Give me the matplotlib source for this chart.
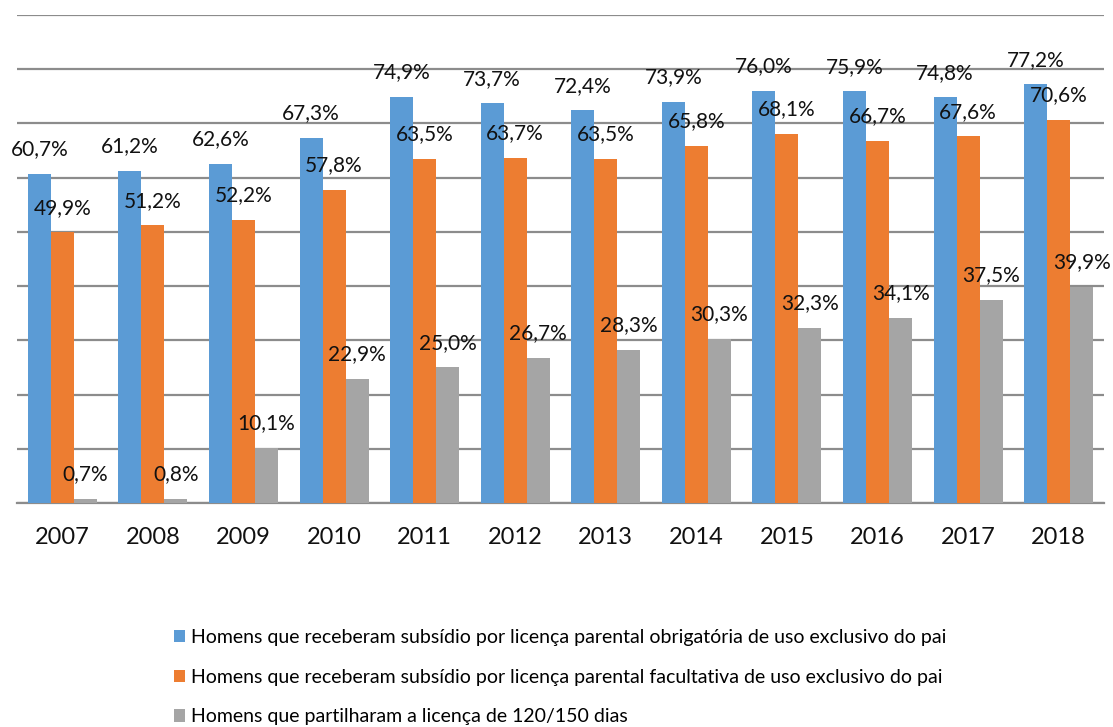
import matplotlib
matplotlib.use("Agg")
import matplotlib.pyplot as plt
import numpy as np
from matplotlib.patches import Patch

plt.rcParams['font.family'] = ['Lato', 'DejaVu Sans']

years = ['2007', '2008', '2009', '2010', '2011', '2012',
         '2013', '2014', '2015', '2016', '2017', '2018']
obrigatoria = [60.7, 61.2, 62.6, 67.3, 74.9, 73.7, 72.4, 73.9, 76.0, 75.9, 74.8, 77.2]
facultativa = [49.9, 51.2, 52.2, 57.8, 63.5, 63.7, 63.5, 65.8, 68.1, 66.7, 67.6, 70.6]
partilhada = [0.7, 0.8, 10.1, 22.9, 25.0, 26.7, 28.3, 30.3, 32.3, 34.1, 37.5, 39.9]

series_labels = [
    'Homens que receberam subsídio por licença parental obrigatória de uso exclusivo do pai',
    'Homens que receberam subsídio por licença parental facultativa de uso exclusivo do pai',
    'Homens que partilharam a licença de 120/150 dias',
]
colors = ['#5B9BD5', '#ED7D31', '#A5A5A5']

W, H = 1113, 727
fig = plt.figure(figsize=(W / 100, H / 100), dpi=100)
ax = fig.add_axes([17 / W, (H - 503) / H, (1104 - 17) / W, (503 - 15) / H])

x = np.arange(len(years))
bw = 0.254
for k, (vals, col) in enumerate(zip([obrigatoria, facultativa, partilhada], colors)):
    pos = x + (k - 1) * bw
    ax.bar(pos, vals, width=bw, color=col, zorder=3)
    for px, v in zip(pos, vals):
        ax.annotate(f"{v:.1f}%".replace('.', ','), (px, v),
                    xytext=(0, 13.5), textcoords='offset points',
                    ha='center', va='baseline', fontsize=15, color='#111111',
                    zorder=5)

ax.set_xlim(-0.5, len(years) - 0.5)
ax.set_ylim(0, 90)
ax.set_yticks(np.arange(0, 91, 10))
ax.yaxis.grid(True, color='#8C8C8C', linewidth=1.6, zorder=0)
ax.tick_params(axis='y', left=False, labelleft=False)
ax.set_xticks(x)
ax.set_xticklabels(years, fontsize=17, color='#111111')
ax.tick_params(axis='x', length=0, pad=17)
for s in ['top', 'left', 'right']:
    ax.spines[s].set_visible(False)
ax.spines['bottom'].set_color('#8C8C8C')
ax.spines['bottom'].set_linewidth(1.6)

handles = [Patch(facecolor=c, edgecolor='none') for c in colors]
fig.legend(handles, series_labels, loc='upper left',
           bbox_to_anchor=(166 / W, 1 - 621 / H), frameon=False,
           fontsize=14, handlelength=0.6, handleheight=0.6,
           handletextpad=0.3, labelspacing=1.17, borderaxespad=0)

fig.savefig('out.png', dpi=100)
